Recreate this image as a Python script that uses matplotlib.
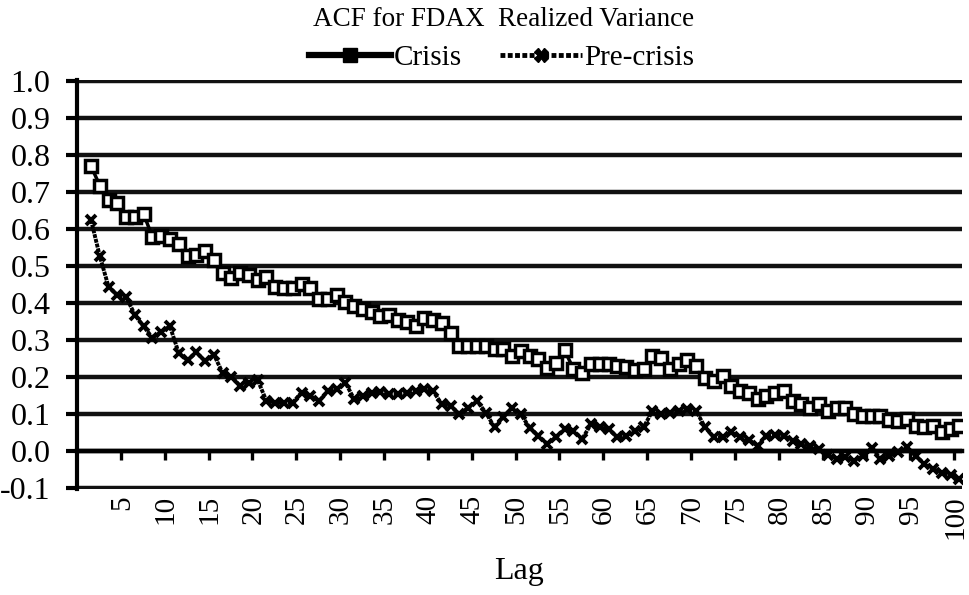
import matplotlib
matplotlib.use('Agg')
import matplotlib.pyplot as plt
from matplotlib.lines import Line2D

plt.rcParams['font.family'] = ['Liberation Serif', 'DejaVu Serif']

# ACF values, lags 1..100
lags = list(range(1, 101))

crisis = [0.770, 0.717, 0.678, 0.669, 0.631, 0.631, 0.640, 0.578, 0.582, 0.573,
          0.560, 0.526, 0.528, 0.540, 0.515, 0.481, 0.466, 0.481, 0.475, 0.462,
          0.470, 0.442, 0.439, 0.441, 0.452, 0.439, 0.409, 0.409, 0.421, 0.403,
          0.390, 0.383, 0.376, 0.363, 0.367, 0.354, 0.349, 0.336, 0.358, 0.354,
          0.345, 0.318, 0.282, 0.282, 0.282, 0.282, 0.275, 0.275, 0.255, 0.269,
          0.255, 0.248, 0.224, 0.237, 0.271, 0.221, 0.210, 0.235, 0.235, 0.235,
          0.230, 0.227, 0.219, 0.221, 0.255, 0.251, 0.221, 0.233, 0.244, 0.228,
          0.197, 0.188, 0.201, 0.175, 0.161, 0.157, 0.139, 0.148, 0.157, 0.161,
          0.134, 0.125, 0.116, 0.125, 0.107, 0.116, 0.116, 0.098, 0.094, 0.094,
          0.094, 0.083, 0.080, 0.085, 0.067, 0.065, 0.067, 0.049, 0.058, 0.067]

pre_crisis = [0.624, 0.526, 0.443, 0.421, 0.416, 0.367, 0.336, 0.305, 0.322, 0.336,
              0.264, 0.244, 0.266, 0.242, 0.260, 0.210, 0.200, 0.175, 0.184, 0.191,
              0.134, 0.130, 0.128, 0.130, 0.157, 0.148, 0.134, 0.161, 0.166, 0.184,
              0.139, 0.148, 0.157, 0.159, 0.152, 0.152, 0.157, 0.161, 0.166, 0.161,
              0.125, 0.121, 0.098, 0.116, 0.134, 0.103, 0.063, 0.090, 0.116, 0.098,
              0.062, 0.040, 0.018, 0.036, 0.058, 0.054, 0.031, 0.072, 0.063, 0.058,
              0.036, 0.040, 0.054, 0.063, 0.107, 0.098, 0.103, 0.108, 0.112, 0.107,
              0.063, 0.036, 0.036, 0.049, 0.038, 0.029, 0.013, 0.040, 0.042, 0.040,
              0.027, 0.018, 0.013, 0.004, -0.013, -0.022, -0.018, -0.027, -0.015, 0.008,
              -0.022, -0.015, -0.005, 0.009, -0.014, -0.036, -0.050, -0.060, -0.066, -0.076]

y_ticks = [-0.1, 0.0, 0.1, 0.2, 0.3, 0.4, 0.5, 0.6, 0.7, 0.8, 0.9, 1.0]
x_labels = list(range(5, 101, 5))

fig = plt.figure(figsize=(9.7, 5.95), dpi=100)
ax = fig.add_axes([77/970, 1 - 489/595, 885/970, (489 - 79.6)/595])

ax.plot(lags, crisis, color='black', lw=2.5, marker='s', markersize=9,
        markerfacecolor='white', markeredgecolor='black', markeredgewidth=2.5, zorder=4)
ax.plot(lags, pre_crisis, color='black', lw=2.8, linestyle=(0, (1, 0.25)), marker='x',
        markersize=7.5, markeredgewidth=2.8, zorder=3)

ax.set_xlim(-0.6, 100.3)
ax.set_ylim(-0.104, 1.004)

# horizontal gridlines
ax.set_yticks(y_ticks)
ax.set_yticklabels(['%.1f' % v for v in y_ticks])
ax.yaxis.grid(True, color='#111111', lw=3.2)
ax.set_axisbelow(True)
ax.tick_params(axis='y', direction='out', length=8, width=3, pad=11, labelsize=23)

# x axis crosses at 0, tick marks between categories
ax.spines['bottom'].set_position(('data', 0))
ax.spines['bottom'].set_linewidth(3.2)
ax.spines['left'].set_linewidth(3)
ax.spines['top'].set_visible(False)
ax.spines['right'].set_visible(False)
ax.set_xticks([v - 0.5 for v in x_labels])
ax.set_xticklabels([str(v) for v in x_labels], rotation=90, va='top')
ax.set_xticks([v - 0.6 for v in x_labels], minor=True)
ax.tick_params(axis='x', which='major', length=0, pad=32, labelsize=21)
ax.tick_params(axis='x', which='minor', direction='out', length=6.5, width=2.4)

fig.text((77 + 885/2) / 970, 1 - 572/595, 'Lag', ha='center', va='center', fontsize=23)
fig.text(504/970, 1 - 19/595, 'ACF for FDAX  Realized Variance', ha='center', va='center',
         fontsize=19.5)

handles = [Line2D([], [], color='black', lw=4.5, marker='s', markersize=10),
           Line2D([], [], color='black', lw=3.5, linestyle=(0, (1, 0.5)), marker='X',
                  markersize=10)]
fig.legend(handles, ['Crisis', 'Pre-crisis'], loc='center', ncol=2,
           bbox_to_anchor=(502/970, 1 - 58/595), frameon=False, fontsize=21,
           handlelength=2.8, handletextpad=0.1, columnspacing=1.3, borderpad=0)

fig.savefig('out.png', dpi=100)
